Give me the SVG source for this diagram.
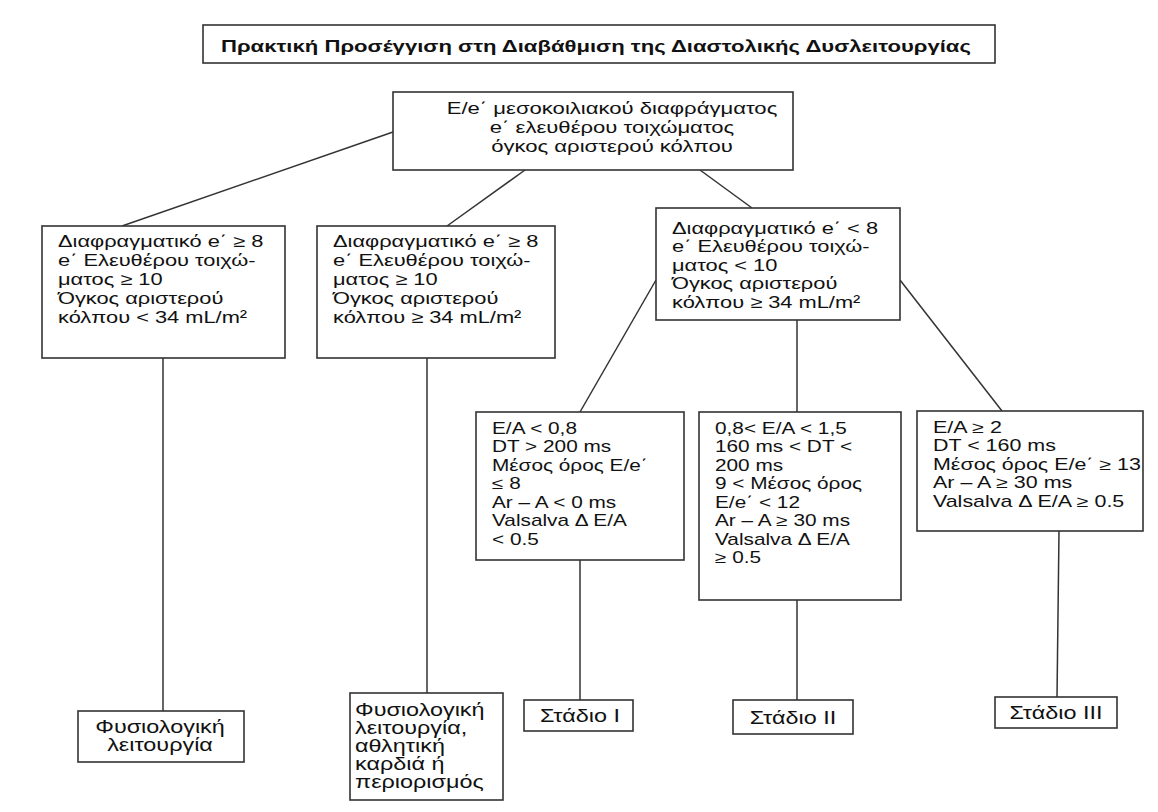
<svg xmlns="http://www.w3.org/2000/svg" width="1158" height="812" viewBox="0 0 1158 812">
<style>
.box{fill:#fff;stroke:#333;stroke-width:1.6}
.ln{stroke:#333;stroke-width:1.5;fill:none}
.t{font-family:"Liberation Sans",Arial,sans-serif;font-size:16px;fill:#111}
.c{text-anchor:middle}
.b{font-weight:bold;font-size:17px}
.m{font-size:16.8px}
.r{font-size:17px}
.l{font-size:18px}
</style>
<rect width="1158" height="812" fill="#fff"/>
<g id="connectors">
<line class="ln" x1="393" y1="132" x2="122" y2="226"/>
<line class="ln" x1="525" y1="170" x2="447" y2="226"/>
<line class="ln" x1="700" y1="170" x2="752" y2="208"/>
<line class="ln" x1="163" y1="358" x2="163" y2="711"/>
<line class="ln" x1="427" y1="358" x2="427" y2="693"/>
<line class="ln" x1="656" y1="280" x2="580" y2="412"/>
<line class="ln" x1="797" y1="320" x2="797" y2="412"/>
<line class="ln" x1="900" y1="280" x2="1002" y2="411"/>
<line class="ln" x1="580" y1="560" x2="580" y2="700"/>
<line class="ln" x1="797" y1="600" x2="797" y2="700"/>
<line class="ln" x1="1059" y1="531" x2="1057" y2="697"/>
</g>
<g id="title">
<rect class="box" x="203" y="25" width="792" height="38"/>
<text class="t b" transform="translate(221,52) scale(1.3,1)">Πρακτική Προσέγγιση στη Διαβάθμιση της Διαστολικής Δυσλειτουργίας</text>
</g>
<g id="root">
<rect class="box" x="393" y="92" width="400" height="78"/>
<text class="t c r" transform="translate(612,0) scale(1.3,1)"><tspan x="0" y="114">E/e΄ μεσοκοιλιακού διαφράγματος</tspan><tspan x="0" y="133">e΄ ελευθέρου τοιχώματος</tspan><tspan x="0" y="152">όγκος αριστερού κόλπου</tspan></text>
</g>
<g id="nodeA">
<rect class="box" x="42" y="226" width="243" height="132"/>
<text class="t m" transform="translate(58,0) scale(1.3,1)"><tspan x="0" y="247">Διαφραγματικό e΄ ≥ 8</tspan><tspan x="0" y="266">e΄ Ελευθέρου τοιχώ-</tspan><tspan x="0" y="285">ματος ≥ 10</tspan><tspan x="0" y="304">Όγκος αριστερού</tspan><tspan x="0" y="323">κόλπου &lt; 34 mL/m²</tspan></text>
</g>
<g id="nodeB">
<rect class="box" x="317" y="226" width="238" height="132"/>
<text class="t m" transform="translate(333,0) scale(1.3,1)"><tspan x="0" y="247">Διαφραγματικό e΄ ≥ 8</tspan><tspan x="0" y="266">e΄ Ελευθέρου τοιχώ-</tspan><tspan x="0" y="285">ματος ≥ 10</tspan><tspan x="0" y="304">Όγκος αριστερού</tspan><tspan x="0" y="323">κόλπου ≥ 34 mL/m²</tspan></text>
</g>
<g id="nodeC">
<rect class="box" x="656" y="208" width="244" height="112"/>
<text class="t m" transform="translate(672,0) scale(1.3,1)"><tspan x="0" y="234">Διαφραγματικό e΄ &lt; 8</tspan><tspan x="0" y="252.5">e΄ Ελευθέρου τοιχώ-</tspan><tspan x="0" y="271">ματος &lt; 10</tspan><tspan x="0" y="289.5">Όγκος αριστερού</tspan><tspan x="0" y="308">κόλπου ≥ 34 mL/m²</tspan></text>
</g>
<g id="nodeD">
<rect class="box" x="476" y="412" width="208" height="148"/>
<text class="t" transform="translate(492,0) scale(1.3,1)"><tspan x="0" y="434">E/A &lt; 0,8</tspan><tspan x="0" y="452.5">DT &gt; 200 ms</tspan><tspan x="0" y="471">Μέσος όρος E/e΄</tspan><tspan x="0" y="489.5">≤ 8</tspan><tspan x="0" y="508">Ar – A &lt; 0 ms</tspan><tspan x="0" y="526.5">Valsalva Δ E/A</tspan><tspan x="0" y="545">&lt; 0.5</tspan></text>
</g>
<g id="nodeE">
<rect class="box" x="699" y="412" width="202" height="188"/>
<text class="t" transform="translate(715,0) scale(1.3,1)"><tspan x="0" y="434">0,8&lt; E/A &lt; 1,5</tspan><tspan x="0" y="452.5">160 ms &lt; DT &lt;</tspan><tspan x="0" y="471">200 ms</tspan><tspan x="0" y="489.5">9 &lt; Μέσος όρος</tspan><tspan x="0" y="508">E/e΄ &lt; 12</tspan><tspan x="0" y="526.5">Ar – A ≥ 30 ms</tspan><tspan x="0" y="545">Valsalva Δ E/A</tspan><tspan x="0" y="563.5">≥ 0.5</tspan></text>
</g>
<g id="nodeF">
<rect class="box" x="917" y="411" width="226" height="120"/>
<text class="t" transform="translate(933,0) scale(1.34,1)"><tspan x="0" y="433">E/A ≥ 2</tspan><tspan x="0" y="451.5">DT &lt; 160 ms</tspan><tspan x="0" y="470">Μέσος όρος E/e΄ ≥ 13</tspan><tspan x="0" y="488.5">Ar – A ≥ 30 ms</tspan><tspan x="0" y="507">Valsalva Δ E/A ≥ 0.5</tspan></text>
</g>
<g id="nodeG">
<rect class="box" x="78" y="711" width="166" height="51"/>
<text class="t c l" transform="translate(160,0) scale(1.3,1)"><tspan x="0" y="733">Φυσιολογική</tspan><tspan x="0" y="751">λειτουργία</tspan></text>
</g>
<g id="nodeH">
<rect class="box" x="350" y="693" width="153" height="107"/>
<text class="t l" transform="translate(355,0) scale(1.3,1)"><tspan x="0" y="716">Φυσιολογική</tspan><tspan x="0" y="734">λειτουργία,</tspan><tspan x="0" y="752">αθλητική</tspan><tspan x="0" y="770">καρδιά ή</tspan><tspan x="0" y="788">περιορισμός</tspan></text>
</g>
<g id="stage1">
<rect class="box" x="524" y="700" width="109" height="31"/>
<text class="t c l" transform="translate(580,722) scale(1.3,1)">Στάδιο Ι</text>
</g>
<g id="stage2">
<rect class="box" x="733" y="700" width="120" height="34"/>
<text class="t c l" transform="translate(793,724) scale(1.3,1)">Στάδιο ΙΙ</text>
</g>
<g id="stage3">
<rect class="box" x="995" y="697" width="122" height="31"/>
<text class="t c l" transform="translate(1056,719) scale(1.3,1)">Στάδιο ΙΙΙ</text>
</g>
</svg>
